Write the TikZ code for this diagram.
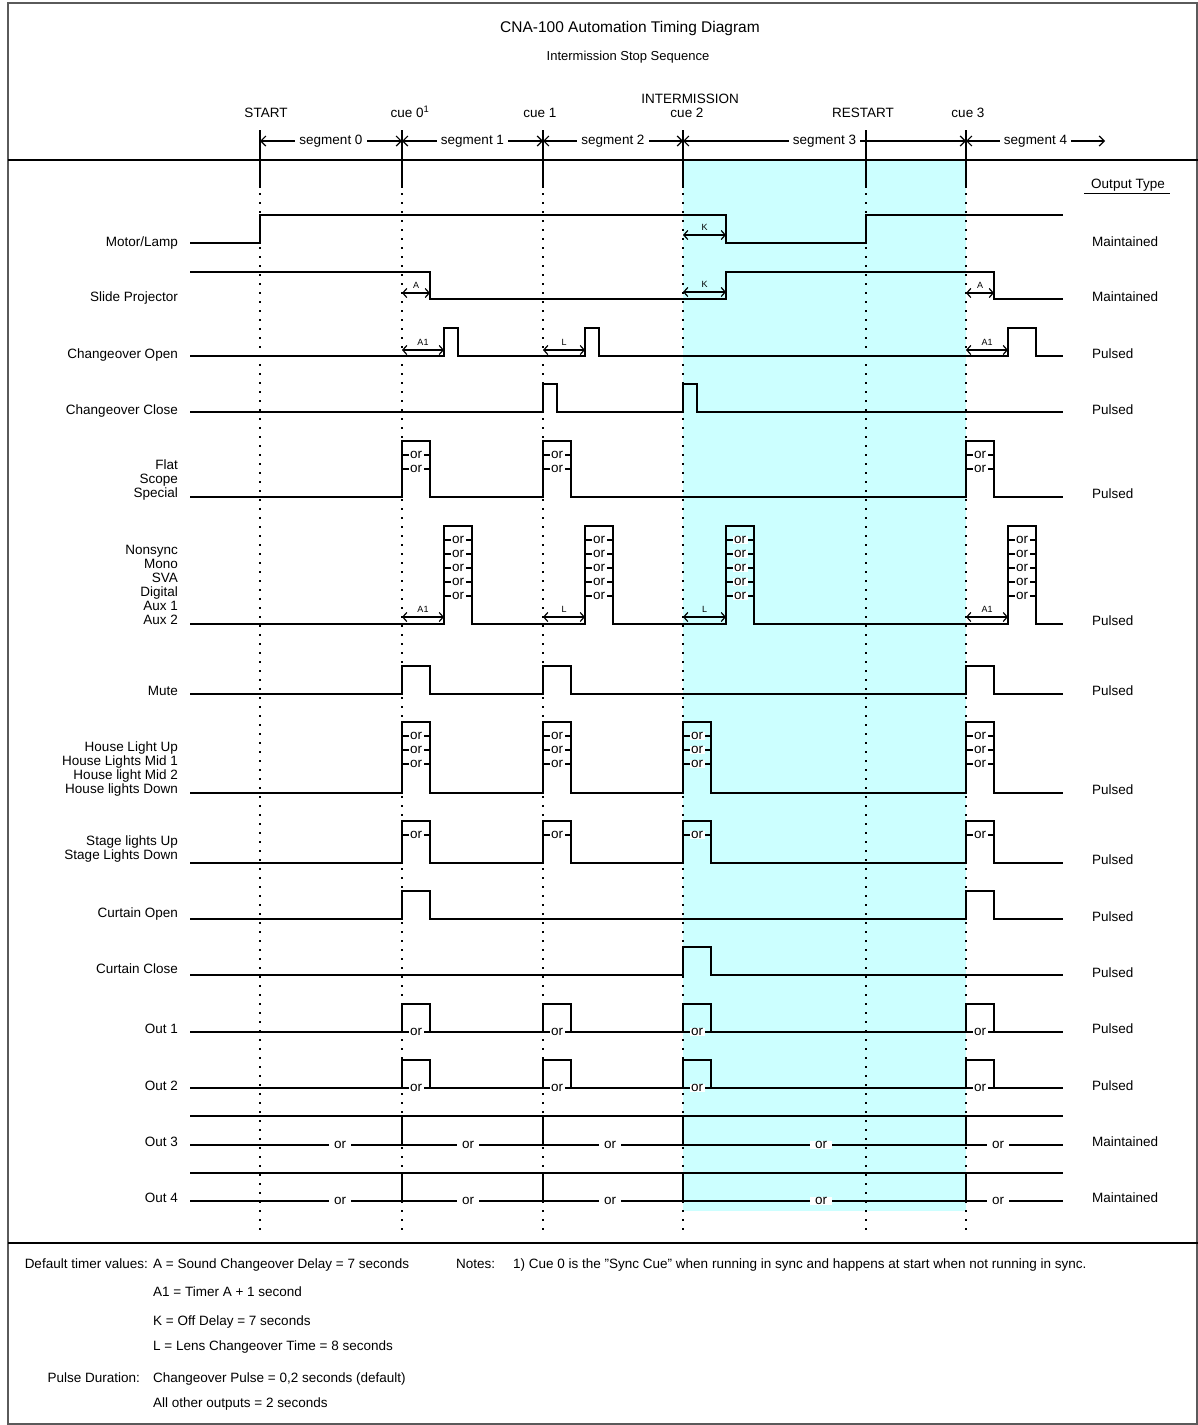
\documentclass[tikz,border=0pt]{standalone}
\usepackage{fontspec}
\setmainfont{Liberation Sans}
\usepackage{tikz}
\usetikzlibrary{arrows.meta}
\definecolor{shadecol}{RGB}{204,255,255}
\definecolor{framecol}{RGB}{90,90,90}

\begin{document}
\begin{tikzpicture}[x=1pt, y=-1pt,
  sig/.style={line width=1.6pt},
  cueline/.style={line width=1.6pt},
  dotline/.style={line width=1.8pt, dash pattern=on 1.8pt off 7.2pt},
  lbl/.style={font=\fontsize{13.5}{14}\selectfont, inner sep=0pt},
  orlbl/.style={font=\fontsize{13.5}{14}\selectfont, fill=white, inner xsep=1.5pt, inner ysep=0.5pt},
  dlylbl/.style={font=\fontsize{9}{10}\selectfont, inner sep=0pt},
  dly/.style={line width=1.2pt, {Straight Barb[length=4pt,width=9pt]}-{Straight Barb[length=4pt,width=9pt]}},
  segarr/.style={line width=1.2pt, {Straight Barb[length=5pt,width=10pt]}-{Straight Barb[length=5pt,width=10pt]}}]
  \useasboundingbox (0,0) rectangle (1198,1425);
  \fill[white] (0,0) rectangle (1198,1425);
  % intermission band
  \fill[shadecol] (683,161) rectangle (966,1211);
  \draw[framecol, line width=2pt] (8,3) rectangle (1197,1424);
  \draw[line width=1.6pt] (8,160) -- (1198,160);
  \draw[line width=1.6pt] (8,1243) -- (1198,1243);

  \node[font=\fontsize{15.5}{17}\selectfont, inner sep=0pt] (title) at (630,28) {CNA-100 Automation Timing Diagram};
  \node[font=\fontsize{13}{14}\selectfont, inner sep=0pt] (subtitle) at (628,57) {Intermission Stop Sequence};

  % cue lines
  \foreach \x in {260,402,543,683,866,966}{
    \draw[cueline] (\x,130) -- (\x,188);
    \draw[dotline] (\x,193) -- (\x,1232);
  }
  \node[lbl] (hstart) at (266,113) {START};
  \node[lbl] (hcue0) at (410,112) {cue 0\textsuperscript{1}};
  \node[lbl] (hcue1) at (540,113) {cue 1};
  \node[lbl] (hint) at (690,99) {INTERMISSION};
  \node[lbl] (hcue2) at (687,113) {cue 2};
  \node[lbl] (hrest) at (863,113) {RESTART};
  \node[lbl] (hcue3) at (968,113) {cue 3};

  % segments
  \foreach \a/\b/\t [count=\i] in {260/402/segment 0, 402/543/segment 1, 543/683/segment 2, 683/966/segment 3, 966/1105/segment 4}
    \draw[segarr] (\a,141) -- node[lbl, fill=white, inner xsep=4pt, inner ysep=1pt] (seg\i) {\t} (\b,141);

  \node[lbl] (outhead) at (1128,185) {Output Type};
  \draw[line width=1pt] (1084,193) -- (1170,193);

  % maintained outputs
  \draw[sig] (190,243) -- (260,243) -- (260,215) -- (726,215) -- (726,243) -- (866,243) -- (866,215) -- (1063,215);
  \draw[sig] (190,272) -- (430,272) -- (430,299) -- (726,299) -- (726,272) -- (994,272) -- (994,299) -- (1063,299);

  % pulsed outputs
  \foreach \lo/\hi/\pl in {356/328/{444/458,585/599,1008/1036},
                           412/384/{543/557,683/697},
                           497/441/{402/430,543/571,966/994},
                           624/526/{444/472,585/613,726/754,1008/1036},
                           694/666/{402/430,543/571,966/994},
                           793/722/{402/430,543/571,683/711,966/994},
                           863/821/{402/430,543/571,683/711,966/994},
                           919/891/{402/430,966/994},
                           975/947/{683/711},
                           1032/1004/{402/430,543/571,683/711,966/994},
                           1088/1060/{402/430,543/571,683/711,966/994}}
    \draw[sig] (190,\lo) \foreach \a/\b in \pl {-- (\a,\lo) -- (\a,\hi) -- (\b,\hi) -- (\b,\lo)} -- (1063,\lo);

  % "or" choices inside pulses
  \foreach \pl/\yl in {{402/430,543/571,966/994}/{455,469},
                       {444/472,585/613,726/754,1008/1036}/{540,554,568,582,596},
                       {402/430,543/571,683/711,966/994}/{736,750,764},
                       {402/430,543/571,683/711,966/994}/{835},
                       {402/430,543/571,683/711,966/994}/{1032},
                       {402/430,543/571,683/711,966/994}/{1088}}
    \foreach \a/\b in \pl
      \foreach \y in \yl
        \draw[sig] (\a,\y) -- node[orlbl] (or-\a-\y) {or} (\b,\y);

  % out 3 and out 4
  \foreach \lo/\hi in {1145/1116, 1201/1173}{
    \draw[sig] (190,\hi) -- (1063,\hi);
    \draw[sig] (190,\lo) -- (1063,\lo);
    \foreach \x in {402,543,683,966}
      \draw[sig] (\x,\hi) -- (\x,\lo);
    \foreach \x in {340,468,610,821,998}
      \node[orlbl, inner xsep=5pt] (or-\x-\lo) at (\x,\lo) {or};
  }

  % delays
  \foreach \a/\b/\y/\t [count=\i] in {683/726/235/K, 402/430/293/A, 683/726/292/K, 966/994/293/A,
                                      402/444/350/A1, 543/585/350/L, 966/1008/350/A1,
                                      402/444/617/A1, 543/585/617/L, 683/726/617/L, 966/1008/617/A1}
    \draw[dly] (\a,\y) -- node[dlylbl, above=4pt] (d\i) {\t} (\b,\y);

  % signal names
  \foreach \y/\t [count=\i] in {246/{Motor/Lamp}, 301/Slide Projector, 358/Changeover Open, 414/Changeover Close,
                                469/Flat, 483/Scope, 497/Special,
                                554/Nonsync, 568/Mono, 582/SVA, 596/Digital, 610/Aux 1, 624/Aux 2,
                                695/Mute,
                                751/House Light Up, 765/House Lights Mid 1, 779/House light Mid 2, 793/House lights Down,
                                845/Stage lights Up, 859/Stage Lights Down,
                                917/Curtain Open, 973/Curtain Close, 1033/Out 1, 1090/Out 2, 1146/Out 3, 1202/Out 4}
    \node[lbl, anchor=base east] (sl\i) at (178,\y) {\t};

  % output types
  \foreach \y/\t [count=\i] in {246/Maintained, 301/Maintained, 358/Pulsed, 414/Pulsed, 498/Pulsed, 625/Pulsed,
                                695/Pulsed, 794/Pulsed, 864/Pulsed, 921/Pulsed, 977/Pulsed, 1033/Pulsed, 1090/Pulsed,
                                1146/Maintained, 1202/Maintained}
    \node[lbl, anchor=base west] (ot\i) at (1092,\y) {\t};

  % footer
  \node[lbl, anchor=base east] (ftimer) at (148,1268) {Default timer values:};
  \node[lbl, anchor=base west] (fa) at (153,1268) {A = Sound Changeover Delay = 7 seconds};
  \node[lbl, anchor=base west] (fa1) at (153,1296) {A1 = Timer A + 1 second};
  \node[lbl, anchor=base west] (fk) at (153,1325) {K = Off Delay = 7 seconds};
  \node[lbl, anchor=base west] (fl) at (153,1350) {L = Lens Changeover Time = 8 seconds};
  \node[lbl, anchor=base east] (fpulse) at (140,1382) {Pulse Duration:};
  \node[lbl, anchor=base west] (fco) at (153,1382) {Changeover Pulse = 0,2 seconds (default)};
  \node[lbl, anchor=base west] (fall) at (153,1407) {All other outputs = 2 seconds};
  \node[lbl, anchor=base west] (fnotes) at (456,1268) {Notes:};
  \node[lbl, anchor=base west] (fnote1) at (513,1268) {1) Cue 0 is the \symbol{34}Sync Cue\symbol{34} when running in sync and happens at start when not running in sync.};
\end{tikzpicture}
\end{document}
